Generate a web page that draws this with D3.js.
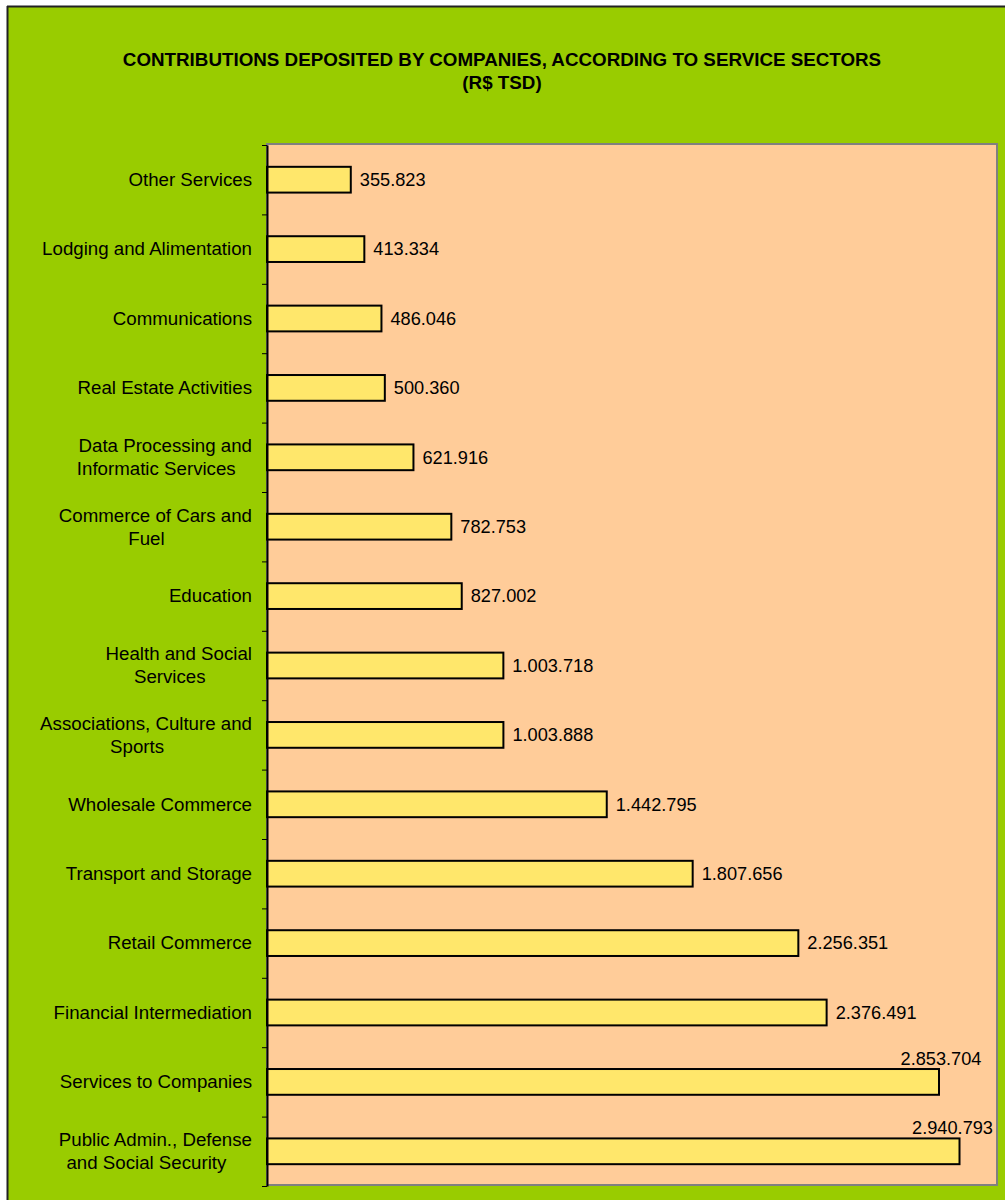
<!DOCTYPE html>
<html>
<head>
<meta charset="utf-8">
<script src="https://cdn.jsdelivr.net/npm/d3@7"></script>
<style>
  body { margin: 0; background: #fff; }
  svg text { font-family: "Liberation Sans", Arial, Helvetica, sans-serif; fill: #000; }
</style>
</head>
<body>
<svg id="chart" width="1005" height="1200"></svg>
<script>
// Service sectors, top to bottom ("\n" marks a line break in the label)
const sectors = [
  "Other Services",
  "Lodging and Alimentation",
  "Communications",
  "Real Estate Activities",
  "Data Processing and\nInformatic Services",
  "Commerce of Cars and\nFuel",
  "Education",
  "Health and Social\nServices",
  "Associations, Culture and\nSports",
  "Wholesale Commerce",
  "Transport and Storage",
  "Retail Commerce",
  "Financial Intermediation",
  "Services to Companies",
  "Public Admin., Defense\nand Social Security"
];

// Contributions in R$ thousand
const contributions = [
  355823, 413334, 486046, 500360, 621916, 782753, 827002, 1003718,
  1003888, 1442795, 1807656, 2256351, 2376491, 2853704, 2940793
];

const titleLines = [
  "CONTRIBUTIONS DEPOSITED BY COMPANIES, ACCORDING TO SERVICE SECTORS",
  "(R$ TSD)"
];

const xMax = 3100000;

const rows = sectors.map((s, i) => ({ sector: s, value: contributions[i] }));

const W = 1005, H = 1200;
const plot = { left: 267, top: 145, right: 997, bottom: 1186 };

const svg = d3.select("#chart");

// Brazilian number format: 1.234.567
const br = d3.formatLocale({ decimal: ",", thousands: ".", grouping: [3], currency: ["R$", ""] });
const fmt = br.format(",d");

// chart area background and its border
svg.append("rect").attr("x", 7).attr("y", 6).attr("width", W - 7).attr("height", H - 6)
  .attr("fill", "#99CC00");
svg.append("line").attr("x1", 7.5).attr("x2", 7.5).attr("y1", 6).attr("y2", H)
  .attr("stroke", "#222").attr("stroke-width", 2);
svg.append("line").attr("x1", 7).attr("x2", W).attr("y1", 6.5).attr("y2", 6.5)
  .attr("stroke", "#222").attr("stroke-width", 2);

// title
svg.append("g").selectAll("text").data(titleLines).join("text")
  .attr("x", 502).attr("y", (d, i) => 66 + i * 23)
  .attr("text-anchor", "middle")
  .attr("font-weight", "bold")
  .attr("font-size", "18.8px")
  .text(d => d);

// plot area
svg.append("rect")
  .attr("x", plot.left).attr("y", plot.top - 1)
  .attr("width", plot.right - plot.left).attr("height", plot.bottom - plot.top)
  .attr("fill", "#FFCC99").attr("stroke", "#808080").attr("stroke-width", 2);

// scales
const x = d3.scaleLinear().domain([0, xMax]).range([plot.left, plot.right]);
const y = d3.scaleBand().domain(rows.map(d => d.sector))
  .range([plot.top, plot.bottom]).paddingInner(0.6).paddingOuter(0.3);
const edge = d3.scaleLinear().domain([0, rows.length]).range([plot.top, plot.bottom]);

// bars
svg.append("g").selectAll("rect").data(rows).join("rect")
  .attr("x", x(0))
  .attr("y", d => y(d.sector) + 1)
  .attr("width", d => x(d.value) - x(0))
  .attr("height", y.bandwidth() - 2)
  .attr("fill", "#FFE76B")
  .attr("stroke", "#000").attr("stroke-width", 2);

// category axis: ticks between categories
const axis = svg.append("g")
  .attr("transform", `translate(${plot.left},0)`)
  .call(d3.axisLeft(edge).tickValues(d3.range(rows.length + 1)).tickFormat("").tickSize(5).tickSizeOuter(0));
axis.select(".domain").attr("stroke", "#000").attr("stroke-width", 2);
axis.selectAll(".tick line").attr("stroke", "#000");

// category labels
const lineH = 23;
const labelX = 252;
const labels = svg.append("g").attr("font-size", "18.7px");
rows.forEach(d => {
  const lines = d.sector.split("\n");
  const cy = y(d.sector) + y.bandwidth() / 2;
  const n = lines.length;
  let center = null;
  lines.forEach((ln, i) => {
    const t = labels.append("text")
      .attr("y", cy + (i - (n - 1) / 2) * lineH + 6.3)
      .text(ln);
    if (i === 0) {
      t.attr("x", labelX).attr("text-anchor", "end");
      center = labelX - t.node().getComputedTextLength() / 2;
    } else {
      t.attr("x", center - 9).attr("text-anchor", "middle");
    }
  });
});

// value labels
const vals = svg.append("g").attr("font-size", "18.2px");
rows.forEach(d => {
  const end = x(d.value);
  const cy = y(d.sector) + y.bandwidth() / 2;
  const t = vals.append("text").text(fmt(d.value));
  const w = t.node().getComputedTextLength();
  if (end + 9 + w > plot.right - 4) {
    // no room to the right: put it above the bar end
    t.attr("x", Math.min(end + w / 2 + 2, plot.right - 4))
      .attr("y", y(d.sector) - 3)
      .attr("text-anchor", "end");
  } else {
    t.attr("x", end + 9).attr("y", cy + 6.3);
  }
});
</script>
</body>
</html>
